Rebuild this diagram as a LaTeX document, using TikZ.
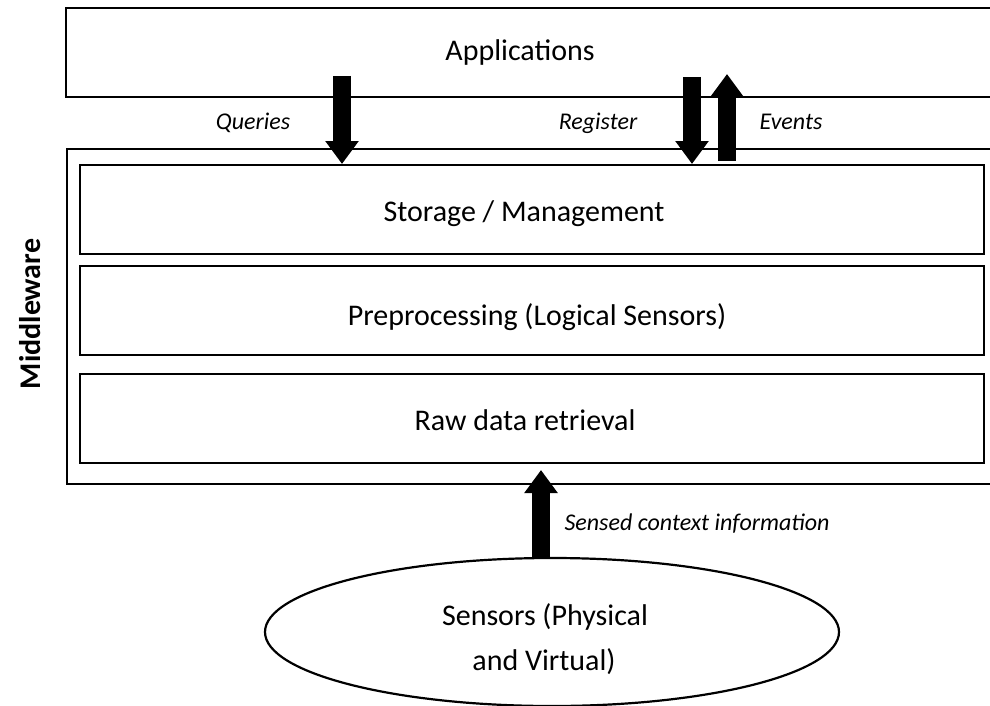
\documentclass[tikz,border=0pt]{standalone}
\usepackage{fontspec}
\setmainfont{Carlito}
\usetikzlibrary{arrows.meta,positioning,shapes.geometric}

\tikzset{
  layer/.style={draw=black, line width=1.6pt, fill=none, inner sep=0pt},
  lbl/.style={font=\fontsize{30}{34}\selectfont, inner sep=0pt, anchor=base},
  note/.style={font=\fontsize{24}{28}\selectfont\itshape, inner sep=0pt, anchor=base},
  fatarrow/.style={line width=18pt, -{Triangle[width=32pt,length=23pt]}}
}

\begin{document}
\begin{tikzpicture}[x=1pt, y=-1pt]
  \useasboundingbox (0,0) rectangle (990,706);
  \clip (0,0) rectangle (990,706);

  % application layer (runs off the right edge)
  \node[layer, minimum width=945pt, minimum height=89pt, anchor=north west] (apps) at (65,7) {};
  \node[lbl] (appstxt) at (520,61) {Applications};

  % middleware frame and its three layers
  \node[layer, minimum width=944pt, minimum height=335pt, anchor=north west] (mw) at (66,148) {};
  \node[layer, minimum width=904pt, minimum height=89pt, anchor=north west] (store) at (79,164) {};
  \node[layer, minimum width=904pt, minimum height=89pt, anchor=north west] (prep) at (79,265) {};
  \node[layer, minimum width=904pt, minimum height=89pt, anchor=north west] (raw) at (79,373) {};
  \node[lbl] (storetxt) at (524,221) {Storage / Management};
  \node[lbl] (preptxt) at (537,325) {Preprocessing (Logical Sensors)};
  \node[lbl] (rawtxt) at (525,430) {Raw data retrieval};
  \node[font=\fontsize{30}{34}\selectfont\bfseries, inner sep=0pt, rotate=90] (mwtxt) at (30,314) {Middleware};

  % sensors
  \node[draw, ellipse, line width=2.2pt, minimum width=574pt, minimum height=148pt, inner sep=0pt] (sens) at (552,632) {};
  \node[lbl] (senstxt1) at (545,625) {Sensors (Physical};
  \node[lbl] (senstxt2) at (544,670) {and Virtual)};

  % arrow end points
  \coordinate (qa) at (342,76);
  \coordinate (qb) at (342,164);
  \coordinate (ra) at (692,77);
  \coordinate (rb) at (692,164);
  \coordinate (ea) at (727,161);
  \coordinate (eb) at (727,74);
  \coordinate (sa) at (541,558);
  \coordinate (sb) at (541,470);

  \draw[fatarrow] (qa) -- (qb);
  \draw[fatarrow] (ra) -- (rb);
  \draw[fatarrow] (ea) -- (eb);
  \draw[fatarrow] (sa) -- (sb);

  % arrow labels
  \node[note] (qtxt) at (253,130) {Queries};
  \node[note] (rtxt) at (598,130) {Register};
  \node[note] (etxt) at (791,130) {Events};
  \node[note] (stxt) at (697,530) {Sensed context information};
\end{tikzpicture}
\end{document}
